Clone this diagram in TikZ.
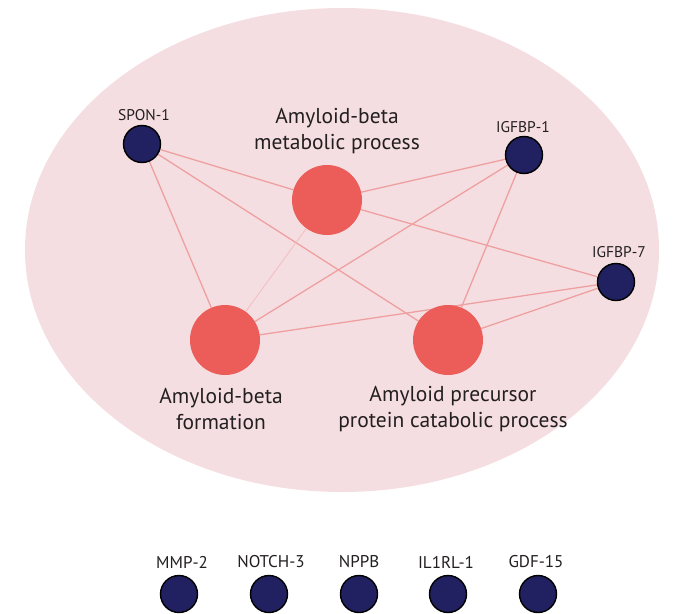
\documentclass[tikz,border=0pt]{standalone}
\usepackage{fontspec}
\setmainfont{PT Sans}
\definecolor{bgpink}{RGB}{245,222,225}
\definecolor{navy}{RGB}{33,32,96}
\definecolor{termred}{RGB}{236,92,88}
\definecolor{linkc}{RGB}{238,160,160}
\definecolor{txt}{RGB}{35,31,32}
\pgfdeclarelayer{bg}
\pgfdeclarelayer{edges}
\pgfsetlayers{bg,edges,main}
\begin{document}
\begin{tikzpicture}[x=1pt,y=-1pt,
  gene/.style={circle,draw=black,line width=1.4pt,fill=navy,minimum size=37pt,inner sep=0pt},
  term/.style={circle,fill=termred,minimum size=70pt,inner sep=0pt},
  lbl/.style={text=txt,font=\fontsize{15.5}{18}\selectfont,inner sep=0pt},
  blbl/.style={text=txt,font=\fontsize{17}{20}\selectfont,inner sep=0pt},
  big/.style={text=txt,font=\fontsize{21.5}{26}\selectfont,align=center,inner sep=0pt},
  link/.style={draw=linkc,line width=1.3pt},
  faint/.style={draw=linkc!70,line width=0.8pt}]
\useasboundingbox (0,0) rectangle (684,613);
\begin{pgfonlayer}{bg}
\fill[bgpink] (342,250) ellipse [x radius=317pt, y radius=242pt];
\end{pgfonlayer}
% genes in network
\node[gene] (spon) at (142,144) {};
\node[gene] (igf1) at (524,155) {};
\node[gene] (igf7) at (616,282) {};
% GO terms
\node[term] (meta) at (327,200) {};
\node[term] (form) at (225,340) {};
\node[term] (app) at (448,340) {};
% labels
\node[lbl] (lspon) at (144,115) {SPON-1};
\node[lbl] (ligf1) at (523,127) {IGFBP-1};
\node[lbl] (ligf7) at (619,252) {IGFBP-7};
\node[big] (lmeta) at (337,131) {Amyloid-beta\\metabolic process};
\node[big] (lform) at (221,409) {Amyloid-beta\\formation};
\node[big] (lapp) at (453,409) {Amyloid precursor\\protein catabolic process};
% edges
\begin{pgfonlayer}{edges}
\draw[link] (spon) -- (meta);
\draw[link] (spon) -- (form);
\draw[link] (spon) -- (app);
\draw[link] (igf1) -- (meta);
\draw[link] (igf1) -- (form);
\draw[link] (igf1) -- (app);
\draw[link] (igf7) -- (meta);
\draw[link] (igf7) -- (form);
\draw[link] (igf7) -- (app);
\draw[faint] (meta) -- (form);
\end{pgfonlayer}
% unconnected genes
\node[gene] (mmp) at (179,594) {};
\node[gene] (notch) at (269,594) {};
\node[gene] (nppb) at (359,594) {};
\node[gene] (il1) at (448,594) {};
\node[gene] (gdf) at (538,594) {};
\node[blbl] (lmmp) at (182,562) {MMP-2};
\node[blbl] (lnotch) at (271,562) {NOTCH-3};
\node[blbl] (lnppb) at (359,562) {NPPB};
\node[blbl] (lil1) at (446,562) {IL1RL-1};
\node[blbl] (lgdf) at (536,562) {GDF-15};
\end{tikzpicture}
\end{document}
